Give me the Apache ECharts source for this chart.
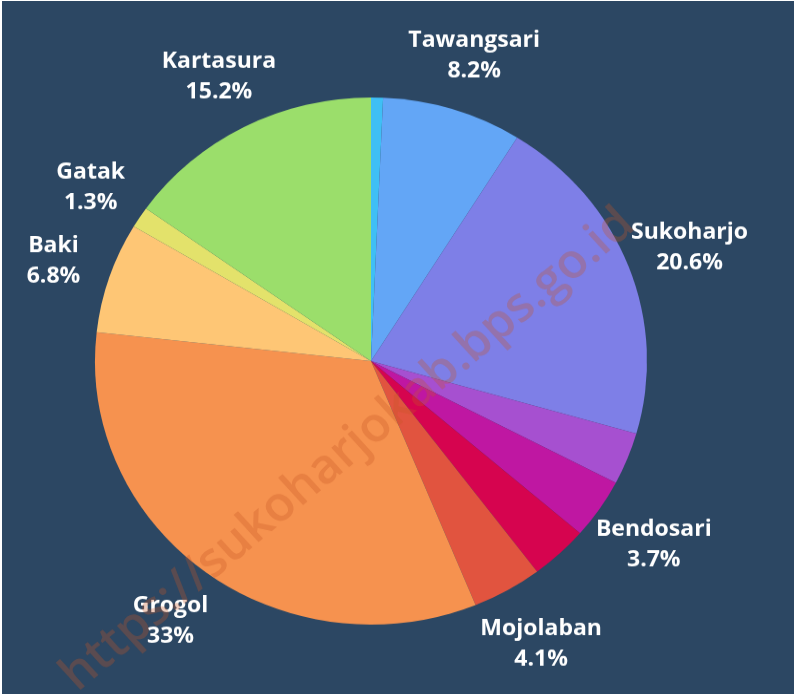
<!DOCTYPE html>
<html>
<head>
<meta charset="utf-8">
<script src="https://cdn.jsdelivr.net/npm/echarts@6/dist/echarts.min.js"></script>
<style>
  html, body { margin: 0; padding: 0; background: #ffffff; overflow: hidden; }
  /* the source picture is slightly squashed vertically, so the chart is too */
  #main { position: absolute; left: 2px; top: 1px; width: 792px; height: 726px;
          transform: scaleY(0.955); transform-origin: 0 0; }
</style>
</head>
<body>
<div id="main"></div>
<script>
// kecamatan shares, clockwise from 12 o'clock
var names  = ['Bulu', 'Tawangsari', 'Sukoharjo', 'Nguter', 'Bendosari', 'Polokarto', 'Mojolaban', 'Grogol', 'Baki', 'Gatak', 'Kartasura']
var values = [0.7, 8.2, 20.6, 3.2, 3.7, 3.4, 4.1, 33, 6.8, 1.3, 15.2]
var labelled = [false, true, true, false, true, false, true, true, true, true, true]
var colors = ['#3fbff5', '#63a6f6', '#7e7fe7', '#a650d0', '#bf17a2', '#d6044f', '#e1543f', '#f6924f', '#fec675', '#e3e26b', '#9bde6b']

var chart = echarts.init(document.getElementById('main'))

var R = 276
var center = [369, 377]
var labelCenter = [372, 380]

var sliceData = names.map((n, i) => ({name: n, value: values[i], itemStyle: {color: colors[i]}}))
var labelData = names.map((n, i) => ({name: n, value: values[i], label: {show: labelled[i]}}))

var option = {
  backgroundColor: '#2c4763',
  animation: false,
  series: [
    {
      type: 'pie',
      center: center,
      radius: [0, R],
      startAngle: 90,
      silent: true,
      label: {show: false},
      labelLine: {show: false},
      itemStyle: {borderWidth: 0},
      data: sliceData
    },
    {
      // transparent ring only used to place the labels
      type: 'pie',
      center: labelCenter,
      radius: [R + 28, R + 90],
      startAngle: 90,
      silent: true,
      itemStyle: {color: 'rgba(0,0,0,0)'},
      labelLine: {show: false},
      label: {
        position: 'inside',
        formatter: '{b}\n{c}%',
        color: '#ffffff',
        fontFamily: 'Open Sans',
        fontWeight: 'bold',
        fontSize: 23,
        lineHeight: 32,
        align: 'center'
      },
      data: labelData
    }
  ],
  graphic: [
    {
      type: 'text',
      x: 346,
      y: 470,
      z: 100,
      rotation: 41 * Math.PI / 180,
      silent: true,
      style: {
        text: 'https://sukoharjokab.bps.go.id',
        fill: 'rgba(200,85,35,0.3)',
        font: '600 50px "Open Sans"',
        align: 'center',
        verticalAlign: 'middle'
      }
    }
  ]
}

option && chart.setOption(option)
</script>
</body>
</html>
